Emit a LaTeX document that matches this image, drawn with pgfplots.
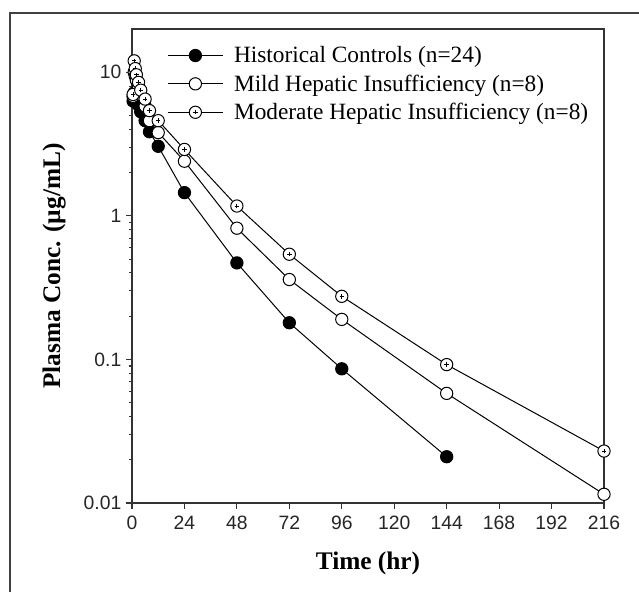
\documentclass[border=0pt]{standalone}
\usepackage{fontspec}
\setmainfont{Liberation Serif}
\newfontfamily\arialf{Liberation Sans}
\usepackage{pgfplots}
\pgfplotsset{compat=1.18}
\pgfdeclareplotmark{cplus}{%
  \pgfpathcircle{\pgfpointorigin}{\pgfplotmarksize}\pgfusepathqfillstroke
  \pgfpathmoveto{\pgfpoint{-0.36\pgfplotmarksize}{0pt}}\pgfpathlineto{\pgfpoint{0.36\pgfplotmarksize}{0pt}}%
  \pgfpathmoveto{\pgfpoint{0pt}{-0.36\pgfplotmarksize}}\pgfpathlineto{\pgfpoint{0pt}{0.36\pgfplotmarksize}}%
  \pgfusepathqstroke}
\begin{document}
\begin{tikzpicture}
\useasboundingbox (-99pt,-66.75pt) rectangle (380.25pt,377.25pt);
\draw[line width=1.3pt, black!75] (-91.5pt,-70pt) -- (-91.5pt,367.5pt) -- (385pt,367.5pt);
\begin{axis}[
  at={(0,0)}, anchor=south west,
  scale only axis, width=354pt, height=355.5pt,
  xmin=0, xmax=216, ymode=log, ymin=0.01, ymax=20,
  xtick={0,24,...,216}, xticklabels={0,24,48,72,96,120,144,168,192,216},
  ytick={0.01,0.1,1,10}, yticklabels={0.01,0.1,1,10},
  tick pos=left, tick align=outside,
  major tick length=4.5pt, minor tick length=2.5pt,
  axis line style={black!80, line width=0.8pt},
  every tick/.style={black!80, line width=0.8pt},
  ticklabel style={font=\arialf\fontsize{14.5}{17}\selectfont, text=black!85},
  xticklabel style={yshift=-2pt},
  xlabel={Time (hr)}, ylabel={Plasma Conc. (µg/mL)},
  label style={font=\fontsize{19}{22}\selectfont\bfseries},
  x label style={at={(axis description cs:0.5,-0.1266)}, anchor=center},
  y label style={at={(axis description cs:-0.165,0.5)}, anchor=center},
  clip=false,
  legend style={at={(axis description cs:0.066,0.975)}, anchor=north west, draw=none, fill=none,
    font=\fontsize{17.5}{20}\selectfont, row sep=3.5pt, legend cell align=left,
    /tikz/every odd column/.append style={column sep=6pt}},
  legend image code/.code={\draw[mark repeat=2,mark phase=2] plot coordinates {(0pt,0pt) (20.6pt,0pt) (41.2pt,0pt)};},
  every axis plot/.append style={black, line width=0.75pt, mark size=4.6pt},
]
\addplot[mark=*, mark options={fill=black}] coordinates {
(0.5,6.3) (1,7.2) (2,6.5) (3,5.9) (4,5.3) (6,4.6) (8,3.85) (12,3.05) (24,1.45) (48,0.47) (72,0.18) (96,0.086) (144,0.021)};
\addlegendentry{Historical Controls (n=24)}
\addplot[mark=*, mark options={fill=white}] coordinates {
(0.5,6.8) (1,10.0) (1.5,9.4) (2,8.8) (3,7.8) (4,7.0) (6,5.8) (8,4.6) (12,3.8) (24,2.4) (48,0.82) (72,0.36) (96,0.19) (144,0.058) (216,0.0115)};
\addlegendentry{Mild Hepatic Insufficiency (n=8)}
\addplot[mark=cplus, mark options={fill=white}] coordinates {
(0.5,7.0) (1,12.0) (1.5,10.6) (2,9.6) (3,8.5) (4,7.5) (6,6.5) (8,5.4) (12,4.6) (24,2.9) (48,1.17) (72,0.54) (96,0.275) (144,0.092) (216,0.023)};
\addlegendentry{Moderate Hepatic Insufficiency (n=8)}
\end{axis}
\end{tikzpicture}
\end{document}
